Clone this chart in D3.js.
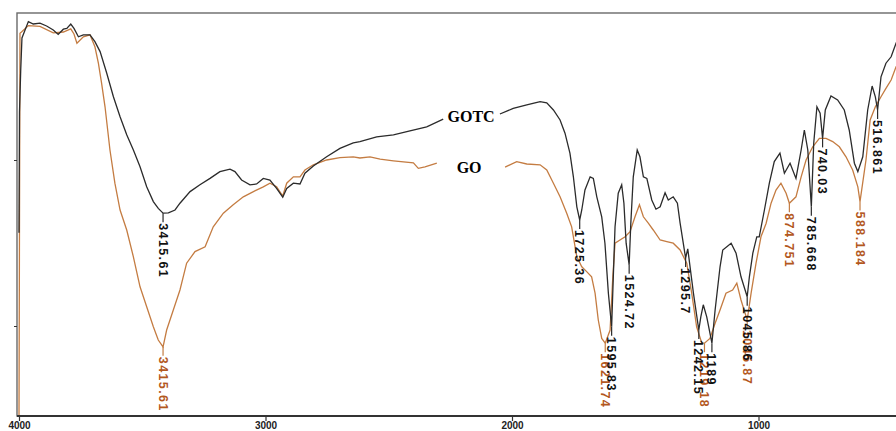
<!DOCTYPE html>
<html>
<head>
<meta charset="utf-8">
<script src="https://cdn.jsdelivr.net/npm/d3@7"></script>
<style>
  body { margin: 0; background: #fff; }
  svg { display: block; }
</style>
</head>
<body>
<script>
// FTIR spectra of GOTC and GO, wavenumber (cm-1) vs transmittance (arb. %)
var gotcWn = [4000, 3998, 3993, 3988, 3962, 3942, 3915, 3888, 3861, 3841, 3820, 3806, 3790, 3777, 3759, 3739, 3712, 3692, 3671, 3644,
  3617, 3590, 3563, 3536, 3509, 3482, 3455, 3435, 3415.61, 3394, 3367, 3347, 3306, 3266, 3225, 3185, 3144, 3124, 3097, 3063,
  3036, 3009, 2982, 2955, 2930, 2914, 2887, 2860, 2840, 2806, 2752, 2698, 2644, 2617, 2549, 2481, 2414, 2346, 2279, 2160,
  2049, 1995, 1940, 1886, 1859, 1832, 1805, 1785, 1765, 1751, 1737, 1725.36, 1717, 1704, 1683, 1670, 1656, 1636, 1623, 1609,
  1595.83, 1590, 1582, 1569, 1555, 1546, 1537, 1524.72, 1518, 1508, 1492, 1481, 1467, 1453, 1433, 1416, 1399, 1379, 1366, 1346,
  1329, 1318, 1295.7, 1287, 1264, 1242.15, 1234, 1224, 1210, 1189, 1176, 1156, 1145, 1111, 1091, 1071, 1045.86, 1037, 1023, 1007,
  997, 976, 956, 936, 913, 895, 872, 848, 827, 814, 800, 785.668, 776, 763, 750, 740.03, 729, 706, 679, 652,
  632, 611, 597, 577, 557, 539, 526, 516.861, 503, 483, 462, 442, 420];
var gotcT = [45.8, 76, 86.5, 94.5, 98.6, 98, 98.2, 97.5, 96.5, 95.4, 96.7, 96.9, 98, 96.9, 94.8, 95.3, 95.3, 93.6, 91.1, 85.7,
  79.8, 74.8, 70.3, 66.5, 62.3, 57.3, 53.6, 51.9, 50.7, 50.8, 51.5, 53.2, 56.1, 57.8, 59.4, 61.1, 61.7, 61.1, 59, 57.8,
  58, 59.4, 59, 56.9, 54.7, 56.9, 58.2, 58, 60.7, 62.5, 64.8, 66.9, 68.3, 68.6, 69.8, 70.3, 71.3, 72.3, 74.2, null,
  75.5, 76.9, 77.8, 78.6, 78.3, 76.5, 74, 70.7, 65.7, 59.8, 52.3, 49, 51.5, 56.5, 59.8, 59.4, 54.8, 49.8, 43.2, 30.7,
  22.3, 33, 47.3, 55.7, 57.8, 53.2, 43.2, 37.8, 48.2, 59.8, 66.5, 64.8, 59.8, 59.4, 54, 51.7, 52.3, 55.8, 54, 54.8,
  53.2, 48.2, 39.5, 41.8, 30.7, 21.5, 24.8, 27.8, 24.8, 18.2, 26.5, 37.3, 41.5, 43.2, 40.7, 34.8, 29.8, 34.8, 40.7, 44.8,
  44.8, 51.5, 58.2, 63.6, 65.7, 60.7, 63.2, 59.4, 66.5, 71.5, 66.5, 52.3, 68.2, 77.3, 75.7, 69.4, 76.5, 80, 79, 76.5,
  71.5, 63.2, 61.1, 64.8, 76.5, 82.5, 79.8, 76.5, 84.8, 88.2, 89.8, 93.2, 96];

var goWn = [4000, 3996, 3990, 3962, 3915, 3861, 3820, 3790, 3777, 3765, 3739, 3712, 3692, 3678, 3665, 3651, 3631, 3611, 3590, 3563,
  3536, 3509, 3482, 3455, 3435, 3415.61, 3401, 3374, 3347, 3320, 3286, 3245, 3212, 3171, 3131, 3090, 3049, 3009, 2982, 2955,
  2930, 2914, 2887, 2860, 2840, 2806, 2752, 2698, 2644, 2617, 2576, 2535, 2481, 2400, 2380, 2353, 2305, 2170, 2028, 1981,
  1940, 1886, 1859, 1832, 1805, 1778, 1758, 1737, 1717, 1697, 1677, 1663, 1650, 1636, 1621.74, 1602, 1591, 1582, 1562, 1541,
  1521, 1501, 1483, 1467, 1447, 1427, 1399, 1372, 1346, 1318, 1291, 1271, 1251, 1230, 1219.18, 1197, 1176, 1156, 1132, 1105,
  1088, 1071, 1045.87, 1030, 1010, 990, 969, 949, 929, 909, 888, 874.751, 848, 827, 807, 780, 753, 726, 699, 672,
  645, 618, 597, 588.184, 564, 547, 526, 503, 483, 462, 442, 420];
var goT = [0, 95.7, 96, 97.6, 97.4, 95.8, 96, 96.8, 95.5, 93.2, 94.8, 95.3, 92.3, 88.2, 83.2, 77.3, 66.5, 58.2, 51.5, 46.5,
  39.8, 32.3, 27.3, 22.3, 19, 17.3, 21.5, 26.5, 31.5, 38.2, 41.1, 42.3, 47.3, 50.7, 52.8, 54.8, 56.1, 57.3, 58.2, 57.3,
  55, 58.2, 59.8, 59.8, 61.5, 62.8, 64, 64.6, 64.8, 64.5, 64.8, 64.2, 63.8, 63.3, 61.9, 62.3, 63.2, null, 62.2, 63.6,
  63, 62.8, 61.5, 58.2, 54.8, 50.7, 47.3, 39.8, 37.3, 36.1, 34.8, 30.7, 24, 19.4, 18.2, 21.5, 34.8, 43.2, 44, 44.8,
  46.1, 49.8, 52.8, 49.8, 48.2, 46.5, 44, 43.6, 43.2, 41.5, 38.2, 30.7, 22.3, 18.2, 18.2, 19.4, 23.2, 26.5, 30.7, 31.5,
  33.2, 29, 24, 30.7, 38.2, 44.8, 48.2, 53.2, 56.5, 58.2, 55.7, 53.2, 54.8, 59.8, 64, 67.3, 69.4, 69.4, 68.6, 67.3,
  64.8, 61.5, 57.3, 53.6, 64, 74, 77.3, 79.8, 81.9, 84, 87.3, 89];

var gotcPeaks = [3415.61, 1725.36, 1595.83, 1524.72, 1295.7, 1242.15, 1189, 1045.86, 785.668, 740.03, 516.861];
var goPeaks = [3415.61, 1621.74, 1219.18, 1045.87, 874.751, 588.184];

var xTicks = [4000, 3000, 2000, 1000];
var yTicks = [22.5, 64];

var width = 896, height = 431;
var mLeft = 17, mTop = 13, mBottom = 416, mRight = 912;

var gotcColor = '#2b2b2b', goLine = '#c47c42', goText = '#b3581e';

var svg = d3.select('body').append('svg')
    .attr('width', width)
    .attr('height', height);

var x = d3.scaleLinear().domain([4000, 400]).range([19, 906.4]);
var y = d3.scaleLinear().domain([0, 100]).range([mBottom, 16]);

svg.append('clipPath').attr('id', 'plot')
  .append('rect')
    .attr('x', mLeft).attr('y', mTop)
    .attr('width', mRight - mLeft).attr('height', mBottom - mTop);

// frame
svg.append('rect')
    .attr('x', mLeft).attr('y', mTop)
    .attr('width', mRight - mLeft).attr('height', mBottom - mTop)
    .attr('fill', 'none')
    .attr('stroke', '#6a6a6a')
    .attr('stroke-width', 1.4);

var line = d3.line()
    .defined(function(d) { return d[1] != null; })
    .x(function(d) { return x(d[0]); })
    .y(function(d) { return y(d[1]); });

function pairs(wn, t) {
  return wn.map(function(w, i) { return [w, t[i]]; });
}

var curves = svg.append('g').attr('clip-path', 'url(#plot)');

curves.append('path')
    .datum(pairs(goWn, goT))
    .attr('d', line)
    .attr('fill', 'none')
    .attr('stroke', goLine)
    .attr('stroke-width', 1.3);

curves.append('path')
    .datum(pairs(gotcWn, gotcT))
    .attr('d', line)
    .attr('fill', 'none')
    .attr('stroke', gotcColor)
    .attr('stroke-width', 1.3);

// peak markers
function peakLabels(peaks, wn, t, lineCol, textCol) {
  var g = svg.append('g');
  peaks.forEach(function(p) {
    var i = wn.indexOf(p);
    var px = x(p), py = y(t[i]);
    g.append('line')
        .attr('x1', px).attr('x2', px)
        .attr('y1', py).attr('y2', py + 9)
        .attr('stroke', lineCol)
        .attr('stroke-width', 1.2);
    g.append('text')
        .attr('transform', 'translate(' + px + ',' + (py + 10) + ') rotate(90)')
        .attr('dy', '0.36em')
        .attr('fill', textCol)
        .style('font-family', 'Liberation Sans, Arial, sans-serif')
        .style('font-weight', 'bold')
        .style('font-size', '12.5px')
        .style('letter-spacing', '1.4px')
        .text(String(p));
  });
}
peakLabels(goPeaks, goWn, goT, goLine, goText);
peakLabels(gotcPeaks, gotcWn, gotcT, gotcColor, '#111');

// series names
svg.append('text')
    .attr('x', x(2166)).attr('y', y(73.5))
    .attr('text-anchor', 'middle')
    .style('font-family', 'Liberation Serif, Times New Roman, serif')
    .style('font-weight', 'bold')
    .style('font-size', '16px')
    .text('GOTC');
svg.append('text')
    .attr('x', x(2174)).attr('y', y(60.8))
    .attr('text-anchor', 'middle')
    .style('font-family', 'Liberation Serif, Times New Roman, serif')
    .style('font-weight', 'bold')
    .style('font-size', '16px')
    .text('GO');

// axes
var xAxis = svg.append('g')
    .attr('transform', 'translate(0,' + mBottom + ')')
    .call(d3.axisBottom(x).tickValues(xTicks).tickSize(5).tickSizeOuter(0).tickFormat(d3.format('d')));
xAxis.select('.domain').remove();
xAxis.append('line')
    .attr('x1', mLeft).attr('x2', mRight)
    .attr('stroke', '#333').attr('stroke-width', 2);
xAxis.selectAll('.tick line').attr('stroke', '#333').attr('stroke-width', 1.2);
xAxis.selectAll('.tick text')
    .attr('y', 6)
    .attr('fill', '#222')
    .style('font-family', 'Liberation Sans, Arial, sans-serif')
    .style('font-weight', 'bold')
    .style('font-size', '10px');

var yAxis = svg.append('g')
    .attr('transform', 'translate(' + mLeft + ',0)')
    .call(d3.axisLeft(y).tickValues(yTicks).tickSize(3).tickFormat(''));
yAxis.select('.domain').remove();
yAxis.selectAll('.tick line').attr('stroke', '#333');
</script>
</body>
</html>
